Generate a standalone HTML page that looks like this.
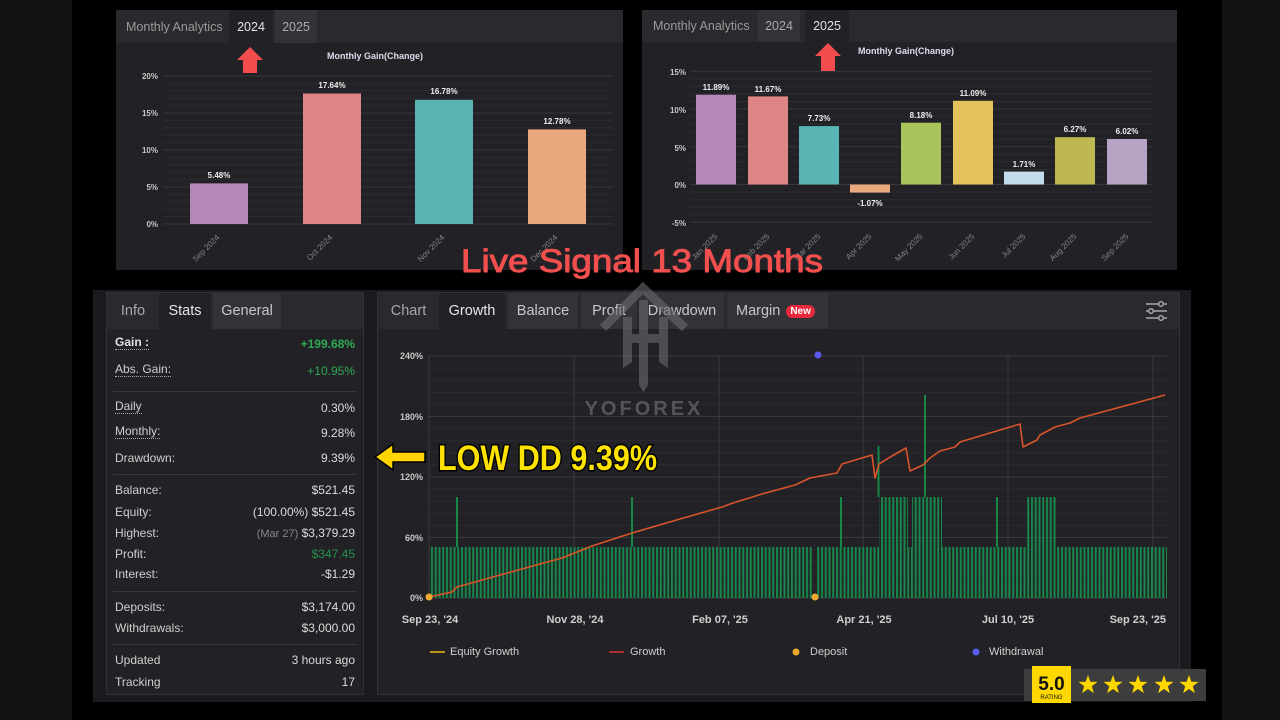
<!DOCTYPE html>
<html><head><meta charset="utf-8"><style>
body{margin:0;width:1280px;height:720px;background:#111;position:relative;overflow:hidden;font-family:"Liberation Sans",sans-serif;}
.a{position:absolute}
.tab{position:absolute;top:0;height:100%;display:flex;align-items:center;justify-content:center;}
.row{position:absolute;left:8px;right:8px;height:16px;line-height:16px;font-size:12px;color:#cfcfcf;}
.row .v{position:absolute;right:0;top:0;color:#dcdcdc}
.row .l{position:absolute;left:0;top:0}
.dot{border-bottom:1px dotted #aaa;line-height:13px;display:inline-block}
.sep{position:absolute;left:6px;right:6px;height:1px;background:#38383c}
</style></head><body>
<div class="a" style="left:72px;top:0;width:1150px;height:720px;background:#000"></div>

<!-- top-left panel -->
<div class="a" style="left:116px;top:10px;width:507px;height:260px;background:#222226;">
  <div class="a" style="left:0;top:0;width:507px;height:33px;background:#2a2a2e;">
    <div class="tab" style="left:10px;font-size:12.5px;color:#9a9a9a;">Monthly Analytics</div>
    <div class="tab" style="left:113px;width:44px;background:#222226;font-size:12.5px;color:#e2e2e2;">2024</div>
    <div class="tab" style="left:159px;width:42px;background:#333337;font-size:12.5px;color:#aaa;">2025</div>
  </div>
</div>

<!-- top-right panel -->
<div class="a" style="left:642px;top:10px;width:535px;height:260px;background:#222226;">
  <div class="a" style="left:0;top:0;width:535px;height:32px;background:#2a2a2e;">
    <div class="tab" style="left:11px;font-size:12.5px;color:#9a9a9a;">Monthly Analytics</div>
    <div class="tab" style="left:116px;width:42px;background:#333337;font-size:12.5px;color:#aaa;">2024</div>
    <div class="tab" style="left:163px;width:44px;background:#222226;font-size:12.5px;color:#e2e2e2;">2025</div>
  </div>
</div>

<!-- bottom container -->
<div class="a" style="left:93px;top:290px;width:1098px;height:412px;background:#1b1b1f;"></div>

<!-- stats panel -->
<div class="a" style="left:106px;top:292px;width:256px;height:401px;background:#222226;border:1px solid #323236;">
  <div class="a" style="left:0;top:0;width:256px;height:36px;background:#2a2a2e;">
    <div class="tab" style="left:0;width:52px;font-size:14.5px;color:#a8a8a8;">Info</div>
    <div class="tab" style="left:52px;width:52px;background:#222226;font-size:14.5px;color:#e6e6e6;">Stats</div>
    <div class="tab" style="left:106px;width:68px;background:#333337;font-size:14.5px;color:#c8c8c8;">General</div>
  </div>
  <div class="row" style="top:43px"><span class="l dot" style="font-weight:bold;color:#e0e0e0">Gain :</span><span class="v" style="color:#2eaa55;font-weight:bold">+199.68%</span></div>
  <div class="row" style="top:70px"><span class="l dot">Abs. Gain:</span><span class="v" style="color:#2eaa55">+10.95%</span></div>
  <div class="sep" style="top:98px"></div>
  <div class="row" style="top:107px"><span class="l dot">Daily</span><span class="v">0.30%</span></div>
  <div class="row" style="top:132px"><span class="l dot">Monthly:</span><span class="v">9.28%</span></div>
  <div class="row" style="top:157px"><span class="l">Drawdown:</span><span class="v">9.39%</span></div>
  <div class="sep" style="top:181px"></div>
  <div class="row" style="top:189px"><span class="l">Balance:</span><span class="v">$521.45</span></div>
  <div class="row" style="top:211px"><span class="l">Equity:</span><span class="v">(100.00%) $521.45</span></div>
  <div class="row" style="top:232px"><span class="l">Highest:</span><span class="v"><span style="color:#888;font-size:11px">(Mar 27)</span> $3,379.29</span></div>
  <div class="row" style="top:253px"><span class="l">Profit:</span><span class="v" style="color:#23914b">$347.45</span></div>
  <div class="row" style="top:273px"><span class="l">Interest:</span><span class="v">-$1.29</span></div>
  <div class="sep" style="top:298px"></div>
  <div class="row" style="top:306px"><span class="l">Deposits:</span><span class="v">$3,174.00</span></div>
  <div class="row" style="top:327px"><span class="l">Withdrawals:</span><span class="v">$3,000.00</span></div>
  <div class="sep" style="top:351px"></div>
  <div class="row" style="top:359px"><span class="l">Updated</span><span class="v">3 hours ago</span></div>
  <div class="row" style="top:381px"><span class="l">Tracking</span><span class="v">17</span></div>
</div>

<!-- chart panel -->
<div class="a" style="left:377px;top:292px;width:801px;height:401px;background:#222226;border:1px solid #323236;">
  <div class="a" style="left:0;top:0;width:801px;height:36px;background:#2a2a2e;">
    <div class="tab" style="left:0;width:61px;font-size:14.5px;color:#a8a8a8;">Chart</div>
    <div class="tab" style="left:61px;width:66px;background:#222226;font-size:14.5px;color:#e6e6e6;">Growth</div>
    <div class="tab" style="left:130px;width:70px;background:#333337;font-size:14.5px;color:#c8c8c8;">Balance</div>
    <div class="tab" style="left:203px;width:56px;background:#333337;font-size:14.5px;color:#c8c8c8;">Profit</div>
    <div class="tab" style="left:262px;width:84px;background:#333337;font-size:14.5px;color:#c8c8c8;">Drawdown</div>
    <div class="tab" style="left:349px;width:101px;background:#333337;font-size:14.5px;color:#c8c8c8;justify-content:flex-start;padding-left:9px;box-sizing:border-box;">Margin<span style="margin-left:6px;background:#e8283c;color:#fff;font-size:10px;font-weight:bold;border-radius:7px;padding:1px 4px;">New</span></div>
  </div>
</div>

<svg class="a" style="left:0;top:0" width="1280" height="720" viewBox="0 0 1280 720" font-family="Liberation Sans, sans-serif">
<defs>
  <pattern id="gb" patternUnits="userSpaceOnUse" x="431" y="0" width="3.75" height="720">
    <rect x="0" y="0" width="2" height="720" fill="#17874a"/>
  </pattern>
</defs>

<!-- ===== top-left chart ===== -->
<g stroke="#2b2b30" stroke-width="1">
  <line x1="163" x2="613" y1="83.4" y2="83.4"/><line x1="163" x2="613" y1="90.8" y2="90.8"/><line x1="163" x2="613" y1="98.2" y2="98.2"/><line x1="163" x2="613" y1="105.6" y2="105.6"/>
  <line x1="163" x2="613" y1="120.4" y2="120.4"/><line x1="163" x2="613" y1="127.8" y2="127.8"/><line x1="163" x2="613" y1="135.2" y2="135.2"/><line x1="163" x2="613" y1="142.6" y2="142.6"/>
  <line x1="163" x2="613" y1="157.4" y2="157.4"/><line x1="163" x2="613" y1="164.8" y2="164.8"/><line x1="163" x2="613" y1="172.2" y2="172.2"/><line x1="163" x2="613" y1="179.6" y2="179.6"/>
  <line x1="163" x2="613" y1="194.4" y2="194.4"/><line x1="163" x2="613" y1="201.8" y2="201.8"/><line x1="163" x2="613" y1="209.2" y2="209.2"/><line x1="163" x2="613" y1="216.6" y2="216.6"/>
</g>
<g stroke="#36363b" stroke-width="1">
  <line x1="163" x2="613" y1="76" y2="76"/><line x1="163" x2="613" y1="113" y2="113"/><line x1="163" x2="613" y1="150" y2="150"/><line x1="163" x2="613" y1="187" y2="187"/><line x1="163" x2="613" y1="224" y2="224"/>
</g>
<g font-size="8" font-weight="bold" fill="#c8c8c8" text-anchor="end">
  <text x="158" y="79">20%</text><text x="158" y="116">15%</text><text x="158" y="153">10%</text><text x="158" y="190">5%</text><text x="158" y="227">0%</text>
</g>
<text x="375" y="59" font-size="9" font-weight="bold" fill="#dde" text-anchor="middle">Monthly Gain(Change)</text>
<rect x="190" y="183.4" width="58" height="40.6" fill="#b487b8"/>
<rect x="303" y="93.5" width="58" height="130.5" fill="#e08585"/>
<rect x="415" y="99.8" width="58" height="124.2" fill="#5ab4b4"/>
<rect x="528" y="129.4" width="58" height="94.6" fill="#eaa87e"/>
<g font-size="8" font-weight="bold" fill="#eee" text-anchor="middle">
  <text x="219" y="178">5.48%</text><text x="332" y="88">17.64%</text><text x="444" y="94">16.78%</text><text x="557" y="124">12.78%</text>
</g>
<g font-size="8" fill="#858585" text-anchor="end">
  <text transform="translate(220,238) rotate(-45)">Sep 2024</text>
  <text transform="translate(333,238) rotate(-45)">Oct 2024</text>
  <text transform="translate(445,238) rotate(-45)">Nov 2024</text>
  <text transform="translate(558,238) rotate(-45)">Dec 2024</text>
</g>
<polygon points="250,47 263,60 257,60 257,73 243,73 243,60 237,60" fill="#f24c4c"/>

<!-- ===== top-right chart ===== -->
<g stroke="#2b2b30" stroke-width="1">
  <line x1="690" x2="1152" y1="78.9" y2="78.9"/><line x1="690" x2="1152" y1="86.4" y2="86.4"/><line x1="690" x2="1152" y1="94" y2="94"/><line x1="690" x2="1152" y1="101.5" y2="101.5"/>
  <line x1="690" x2="1152" y1="116.6" y2="116.6"/><line x1="690" x2="1152" y1="124.1" y2="124.1"/><line x1="690" x2="1152" y1="131.7" y2="131.7"/><line x1="690" x2="1152" y1="139.2" y2="139.2"/>
  <line x1="690" x2="1152" y1="154.3" y2="154.3"/><line x1="690" x2="1152" y1="161.9" y2="161.9"/><line x1="690" x2="1152" y1="169.4" y2="169.4"/><line x1="690" x2="1152" y1="177" y2="177"/>
  <line x1="690" x2="1152" y1="192" y2="192"/><line x1="690" x2="1152" y1="199.6" y2="199.6"/><line x1="690" x2="1152" y1="207.1" y2="207.1"/><line x1="690" x2="1152" y1="214.7" y2="214.7"/>
</g>
<g stroke="#36363b" stroke-width="1">
  <line x1="690" x2="1152" y1="71.3" y2="71.3"/><line x1="690" x2="1152" y1="109" y2="109"/><line x1="690" x2="1152" y1="146.8" y2="146.8"/><line x1="690" x2="1152" y1="184.5" y2="184.5"/><line x1="690" x2="1152" y1="222.3" y2="222.3"/>
</g>
<g font-size="8" font-weight="bold" fill="#c8c8c8" text-anchor="end">
  <text x="686" y="75">15%</text><text x="686" y="113">10%</text><text x="686" y="151">5%</text><text x="686" y="188">0%</text><text x="686" y="226">-5%</text>
</g>
<text x="858" y="54" font-size="9" font-weight="bold" fill="#dde">Monthly Gain(Change)</text>
<rect x="696" y="94.7" width="40" height="89.8" fill="#b487b8"/>
<rect x="748" y="96.4" width="40" height="88.1" fill="#e08585"/>
<rect x="799" y="126.1" width="40" height="58.4" fill="#5ab4b4"/>
<rect x="850" y="184.5" width="40" height="8.1" fill="#eaa87e"/>
<rect x="901" y="122.7" width="40" height="61.8" fill="#a8c45a"/>
<rect x="953" y="100.8" width="40" height="83.7" fill="#e3c35a"/>
<rect x="1004" y="171.6" width="40" height="12.9" fill="#c2dbea"/>
<rect x="1055" y="137.2" width="40" height="47.3" fill="#bdb852"/>
<rect x="1107" y="139" width="40" height="45.5" fill="#b8a3c4"/>
<g font-size="8" font-weight="bold" fill="#eee" text-anchor="middle">
  <text x="716" y="90">11.89%</text><text x="768" y="92">11.67%</text><text x="819" y="121">7.73%</text><text x="870" y="206">-1.07%</text>
  <text x="921" y="118">8.18%</text><text x="973" y="96">11.09%</text><text x="1024" y="167">1.71%</text><text x="1075" y="132">6.27%</text><text x="1127" y="134">6.02%</text>
</g>
<g font-size="8" fill="#858585" text-anchor="end">
  <text transform="translate(718,237) rotate(-45)">Jan 2025</text>
  <text transform="translate(770,237) rotate(-45)">Feb 2025</text>
  <text transform="translate(821,237) rotate(-45)">Mar 2025</text>
  <text transform="translate(872,237) rotate(-45)">Apr 2025</text>
  <text transform="translate(923,237) rotate(-45)">May 2025</text>
  <text transform="translate(975,237) rotate(-45)">Jun 2025</text>
  <text transform="translate(1026,237) rotate(-45)">Jul 2025</text>
  <text transform="translate(1077,237) rotate(-45)">Aug 2025</text>
  <text transform="translate(1129,237) rotate(-45)">Sep 2025</text>
</g>
<polygon points="828,43 841,56 835,56 835,71 821,71 821,56 815,56" fill="#f24c4c"/>

<!-- Live signal text -->
<text x="461" y="272" font-size="32" fill="#f24f4f" stroke="#f24f4f" stroke-width="0.9" textLength="362" lengthAdjust="spacingAndGlyphs">Live Signal 13 Months</text>

<!-- ===== growth chart ===== -->
<g stroke="#2b2b30" stroke-width="1">
  <line x1="429" x2="1167" y1="368.1" y2="368.1"/><line x1="429" x2="1167" y1="380.2" y2="380.2"/><line x1="429" x2="1167" y1="392.3" y2="392.3"/><line x1="429" x2="1167" y1="404.4" y2="404.4"/>
  <line x1="429" x2="1167" y1="428.6" y2="428.6"/><line x1="429" x2="1167" y1="440.7" y2="440.7"/><line x1="429" x2="1167" y1="452.8" y2="452.8"/><line x1="429" x2="1167" y1="464.9" y2="464.9"/>
  <line x1="429" x2="1167" y1="489.1" y2="489.1"/><line x1="429" x2="1167" y1="501.2" y2="501.2"/><line x1="429" x2="1167" y1="513.3" y2="513.3"/><line x1="429" x2="1167" y1="525.4" y2="525.4"/>
  <line x1="429" x2="1167" y1="549.6" y2="549.6"/><line x1="429" x2="1167" y1="561.7" y2="561.7"/><line x1="429" x2="1167" y1="573.8" y2="573.8"/><line x1="429" x2="1167" y1="585.9" y2="585.9"/>
</g>
<g stroke="#38383d" stroke-width="1">
  <line x1="429" x2="1167" y1="356" y2="356"/><line x1="429" x2="1167" y1="416.5" y2="416.5"/><line x1="429" x2="1167" y1="477" y2="477"/><line x1="429" x2="1167" y1="537.5" y2="537.5"/><line x1="429" x2="1167" y1="598" y2="598"/>
  <line x1="429" x2="429" y1="356" y2="598"/><line x1="574" x2="574" y1="356" y2="598"/><line x1="719" x2="719" y1="356" y2="598"/><line x1="863" x2="863" y1="356" y2="598"/><line x1="1008" x2="1008" y1="356" y2="598"/><line x1="1153" x2="1153" y1="356" y2="598"/>
</g>
<g font-size="9" font-weight="bold" fill="#c8c8c8" text-anchor="end">
  <text x="423" y="359">240%</text><text x="423" y="420">180%</text><text x="423" y="480">120%</text><text x="423" y="541">60%</text><text x="423" y="601">0%</text>
</g>
<!-- green bars -->
<rect x="431" y="547" width="381" height="51" fill="url(#gb)"/>
<rect x="817" y="547" width="350" height="51" fill="url(#gb)"/>
<rect x="879" y="497" width="29" height="50" fill="url(#gb)"/>
<rect x="912" y="497" width="30" height="50" fill="url(#gb)"/>
<rect x="1026" y="497" width="31" height="50" fill="url(#gb)"/>
<g fill="#17874a">
  <rect x="456" y="497" width="2" height="50"/>
  <rect x="631" y="497" width="2" height="50"/>
  <rect x="840" y="497" width="2" height="50"/>
  <rect x="996" y="497" width="2" height="50"/>
  <rect x="877.5" y="446" width="2" height="51"/>
  <rect x="924" y="395" width="2" height="102"/>
</g>
<polyline fill="none" stroke="#d9542b" stroke-width="1.6" stroke-linejoin="round" points="429,597 452,592 457,587 500,575 562,558 592,546 632,533 680,519 722,507 733,503 762,494 795,485 810,478 837,473 842,464 872,455 875,478 879,464 892,456 906,448 910,471 923,465 930,458 940,451 955,447 960,442 1000,430 1020,424 1023,447 1037,440 1040,435 1055,427 1070,423 1080,418 1165,395"/>
<circle cx="429" cy="597" r="3.5" fill="#f0a830"/>
<circle cx="815" cy="597" r="3.5" fill="#f0a830"/>
<circle cx="818" cy="355" r="3.5" fill="#5a5af0"/>
<g font-size="11" font-weight="bold" fill="#cfcfcf">
  <text x="430" y="623" text-anchor="middle">Sep 23, '24</text>
  <text x="575" y="623" text-anchor="middle">Nov 28, '24</text>
  <text x="720" y="623" text-anchor="middle">Feb 07, '25</text>
  <text x="864" y="623" text-anchor="middle">Apr 21, '25</text>
  <text x="1008" y="623" text-anchor="middle">Jul 10, '25</text>
  <text x="1166" y="623" text-anchor="end">Sep 23, '25</text>
</g>
<g font-size="11" fill="#cfcfcf">
  <line x1="430" x2="445" y1="652" y2="652" stroke="#b8961a" stroke-width="2"/>
  <text x="450" y="655">Equity Growth</text>
  <line x1="609" x2="624" y1="652" y2="652" stroke="#b03030" stroke-width="2"/>
  <text x="630" y="655">Growth</text>
  <circle cx="796" cy="652" r="3.5" fill="#f0a830"/>
  <text x="810" y="655">Deposit</text>
  <circle cx="976" cy="652" r="3.5" fill="#5a5af0"/>
  <text x="989" y="655">Withdrawal</text>
</g>
<!-- sliders icon -->
<g stroke="#a8a8a8" stroke-width="1.5" fill="#2a2a2e">
  <line x1="1146" x2="1167" y1="304" y2="304"/><line x1="1146" x2="1167" y1="311" y2="311"/><line x1="1146" x2="1167" y1="318" y2="318"/>
  <circle cx="1161" cy="304" r="2.3"/><circle cx="1151" cy="311" r="2.3"/><circle cx="1161" cy="318" r="2.3"/>
</g>

<!-- watermark logo -->
<g fill="#6a6a6f" opacity="0.6">
  <polyline points="603,328 643,288 685,328" fill="none" stroke="#6a6a6f" stroke-width="9"/>
  <polygon points="623,317 632,317 632,362 623,368"/>
  <polygon points="659,317 668,317 668,368 659,362"/>
  <rect x="623" y="334" width="45" height="9"/>
  <polygon points="639,300 648,300 648,385 643.5,392 639,385"/>
</g>
<text x="644" y="415" font-size="20" font-weight="bold" fill="#5e5e63" text-anchor="middle" letter-spacing="3" opacity="0.85">YOFOREX</text>

<!-- LOW DD annotation -->
<polygon points="375,457 393,444 393,452 425,452 425,462 393,462 393,470" fill="#ffd400" stroke="#000" stroke-width="1.5"/>
<text x="438" y="470" font-size="35" font-weight="bold" fill="#ffe300" stroke="#000" stroke-width="3" paint-order="stroke" textLength="219" lengthAdjust="spacingAndGlyphs">LOW DD 9.39%</text>

<!-- rating badge -->
<rect x="1024" y="669" width="182" height="32" fill="#3d3d3d"/>
<rect x="1032" y="666" width="39" height="37" fill="#ffd800"/>
<text x="1051.5" y="690" font-size="19" font-weight="bold" fill="#111" text-anchor="middle">5.0</text>
<text x="1051.5" y="699" font-size="6" fill="#111" text-anchor="middle">RATING</text>
<g fill="#ffd700">
  <polygon transform="translate(1088,685)" points="0,-10 2.35,-3.24 9.51,-3.09 3.8,1.24 5.88,8.09 0,4 -5.88,8.09 -3.8,1.24 -9.51,-3.09 -2.35,-3.24"/>
  <polygon transform="translate(1113,685)" points="0,-10 2.35,-3.24 9.51,-3.09 3.8,1.24 5.88,8.09 0,4 -5.88,8.09 -3.8,1.24 -9.51,-3.09 -2.35,-3.24"/>
  <polygon transform="translate(1138,685)" points="0,-10 2.35,-3.24 9.51,-3.09 3.8,1.24 5.88,8.09 0,4 -5.88,8.09 -3.8,1.24 -9.51,-3.09 -2.35,-3.24"/>
  <polygon transform="translate(1164,685)" points="0,-10 2.35,-3.24 9.51,-3.09 3.8,1.24 5.88,8.09 0,4 -5.88,8.09 -3.8,1.24 -9.51,-3.09 -2.35,-3.24"/>
  <polygon transform="translate(1189,685)" points="0,-10 2.35,-3.24 9.51,-3.09 3.8,1.24 5.88,8.09 0,4 -5.88,8.09 -3.8,1.24 -9.51,-3.09 -2.35,-3.24"/>
</g>
</svg>
</body></html>
